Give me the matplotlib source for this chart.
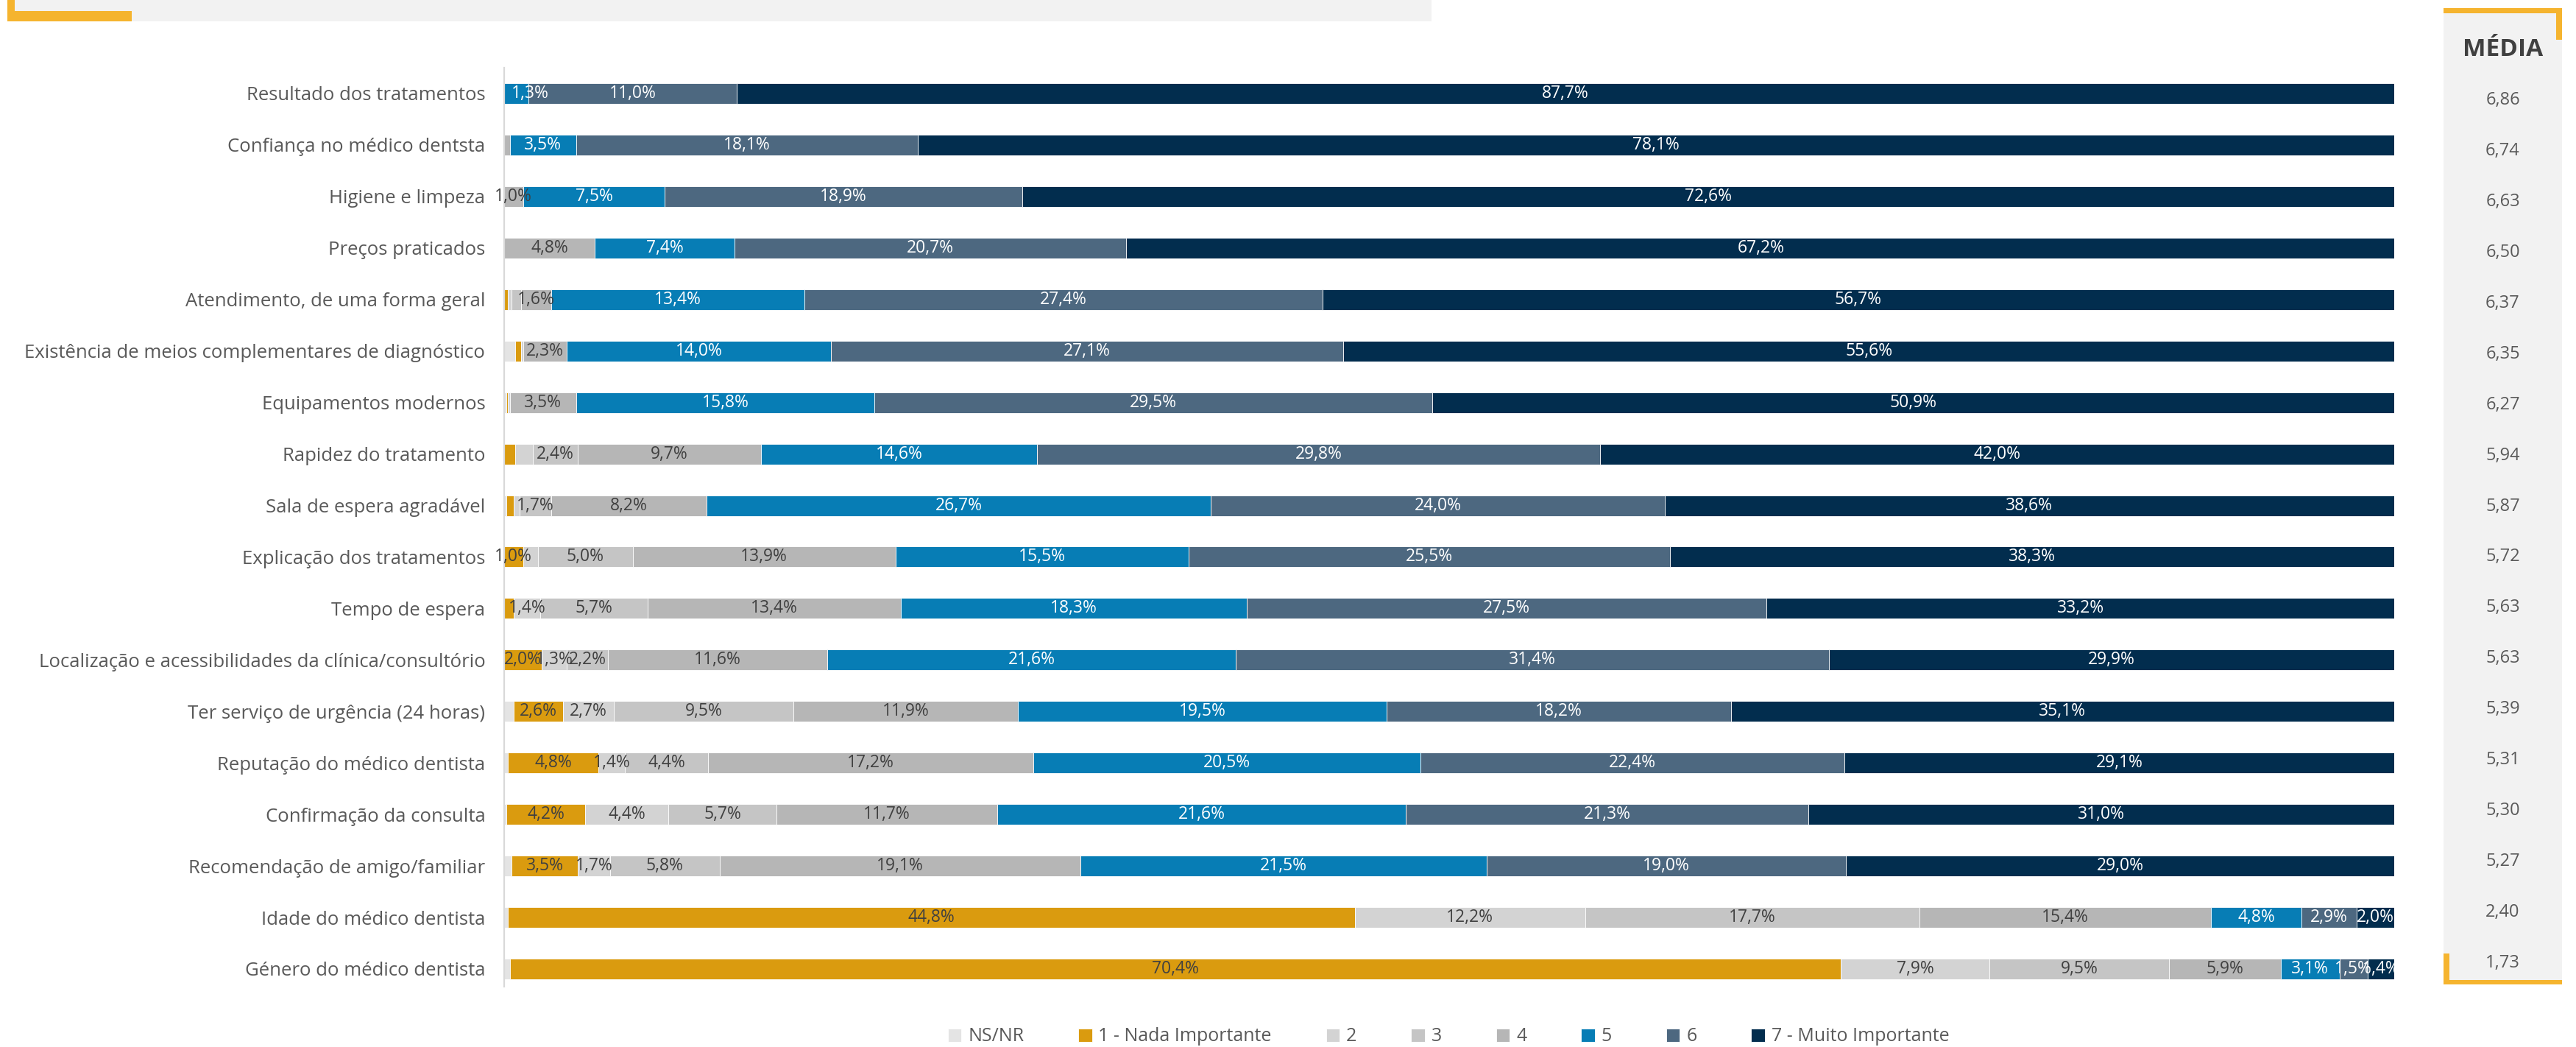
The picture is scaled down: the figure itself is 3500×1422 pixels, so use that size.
import matplotlib
matplotlib.use("Agg")
import matplotlib.pyplot as plt
from matplotlib.patches import Rectangle
import numpy as np

plt.rcParams["font.family"] = ["Open Sans", "DejaVu Sans"]

# ---------------------------------------------------------------- data
categories = [
    "Resultado dos tratamentos",
    "Confiança no médico dentsta",
    "Higiene e limpeza",
    "Preços praticados",
    "Atendimento, de uma forma geral",
    "Existência de meios complementares de diagnóstico",
    "Equipamentos modernos",
    "Rapidez do tratamento",
    "Sala de espera agradável",
    "Explicação dos tratamentos",
    "Tempo de espera",
    "Localização e acessibilidades da clínica/consultório",
    "Ter serviço de urgência (24 horas)",
    "Reputação do médico dentista",
    "Confirmação da consulta",
    "Recomendação de amigo/familiar",
    "Idade do médico dentista",
    "Género do médico dentista",
]

series_names = ["NS/NR", "1 - Nada Importante", "2", "3", "4", "5", "6",
                "7 - Muito Importante"]

ns_nr = [0, 0, 0, 0, 0, 0.6, 0.1, 0, 0.1, 0, 0, 0, 0.5, 0.2, 0.1, 0.4, 0.2, 0.3]
s1 = [0, 0, 0, 0, 0.2, 0.3, 0.1, 0.6, 0.4, 1.0, 0.5, 2.0, 2.6, 4.8, 4.2, 3.5, 44.8, 70.4]
s2 = [0, 0, 0, 0, 0.2, 0.1, 0.1, 0.9, 0.3, 0.8, 1.4, 1.3, 2.7, 1.4, 4.4, 1.7, 12.2, 7.9]
s3 = [0, 0, 0, 0, 0.5, 0, 0, 2.4, 1.7, 5.0, 5.7, 2.2, 9.5, 4.4, 5.7, 5.8, 17.7, 9.5]
s4 = [0, 0.3, 1.0, 4.8, 1.6, 2.3, 3.5, 9.7, 8.2, 13.9, 13.4, 11.6, 11.9, 17.2, 11.7, 19.1, 15.4, 5.9]
s5 = [1.3, 3.5, 7.5, 7.4, 13.4, 14.0, 15.8, 14.6, 26.7, 15.5, 18.3, 21.6, 19.5, 20.5, 21.6, 21.5, 4.8, 3.1]
s6 = [11.0, 18.1, 18.9, 20.7, 27.4, 27.1, 29.5, 29.8, 24.0, 25.5, 27.5, 31.4, 18.2, 22.4, 21.3, 19.0, 2.9, 1.5]
s7 = [87.7, 78.1, 72.6, 67.2, 56.7, 55.6, 50.9, 42.0, 38.6, 38.3, 33.2, 29.9, 35.1, 29.1, 31.0, 29.0, 2.0, 1.4]

means = ["6,86", "6,74", "6,63", "6,50", "6,37", "6,35", "6,27", "5,94", "5,87",
         "5,72", "5,63", "5,63", "5,39", "5,31", "5,30", "5,27", "2,40", "1,73"]

series = [ns_nr, s1, s2, s3, s4, s5, s6, s7]
colors = ["#e4e4e4", "#da9b0f", "#d3d3d3", "#c5c5c5", "#b6b6b6",
          "#077db5", "#4d6880", "#022d4e"]
label_colors = ["#404040"] * 5 + ["white"] * 3

# ---------------------------------------------------------------- figure
W, H = 3500, 1422
fig = plt.figure(figsize=(W / 100, H / 100), dpi=100)
fig.patch.set_facecolor("white")


def fx(px):
    return px / W


def fy(py):
    return 1 - py / H


def fig_rect(x0, y0, x1, y1, color, z=0):
    fig.add_artist(Rectangle((fx(x0), fy(y1)), fx(x1) - fx(x0), fy(y0) - fy(y1),
                             transform=fig.transFigure, facecolor=color,
                             edgecolor="none", zorder=z))


orange = "#f5b42f"
panel_grey = "#f2f2f2"

# header band with orange corner
fig_rect(10, 0, 1945, 29, panel_grey)
fig_rect(10, 0, 20, 29, orange, 1)
fig_rect(10, 15, 179, 29, orange, 1)

# ---------------------------------------------------------------- bars
n = len(categories)
y = np.arange(n)
ax_left, ax_right, ax_top, ax_bottom = 685, 3253, 92, 1340
ax = fig.add_axes([fx(ax_left), fy(ax_bottom), fx(ax_right) - fx(ax_left),
                   fy(ax_top) - fy(ax_bottom)])

row_first, row_last = 127, 1316
unit = (row_last - row_first) / (n - 1)
ax.set_ylim(n - 1 + (ax_bottom - row_last) / unit, -(row_first - ax_top) / unit)
ax.set_xlim(0, 100)

left = np.zeros(n)
for name, vals, col, tcol in zip(series_names, series, colors, label_colors):
    vals = np.array(vals, dtype=float)
    ax.barh(y, vals, left=left, height=0.40, color=col, edgecolor="white",
            linewidth=0.6, label=name)
    for yi, (l0, v) in enumerate(zip(left, vals)):
        if v >= 1.0:
            txt = f"{v:.1f}%".replace(".", ",")
            if tcol == "white" and l0 == 0 and v < 2.5:
                # keep a light label inside the bar when the first segment is thin
                ax.text(l0 + 0.4, yi, txt, ha="left", va="center",
                        fontsize=16.5, color=tcol)
            else:
                ax.text(l0 + v / 2, yi, txt, ha="center", va="center",
                        fontsize=16.5, color=tcol)
    left += vals

ax.set_yticks(y)
ax.set_yticklabels(categories, fontsize=18.5, color="#595959")
ax.tick_params(axis="y", length=0, pad=18.5)
ax.set_xticks([])
for side in ["top", "right", "bottom"]:
    ax.spines[side].set_visible(False)
ax.spines["left"].set_color("#d9d9d9")
ax.spines["left"].set_linewidth(1.6)
ax.set_facecolor("none")

# ---------------------------------------------------------------- mean panel
p_left, p_right, p_top, p_bottom = 3320, 3481, 11, 1337
axm = fig.add_axes([fx(p_left), fy(p_bottom), fx(p_right) - fx(p_left),
                    fy(p_top) - fy(p_bottom)])
axm.set_facecolor(panel_grey)
m_first, m_last = 136, 1308
m_unit = (m_last - m_first) / (n - 1)
axm.set_ylim(n - 1 + (p_bottom - m_last) / m_unit, -(m_first - p_top) / m_unit)
axm.set_xlim(0, 1)
axm.set_xticks([])
axm.set_yticks([])
for s in axm.spines.values():
    s.set_visible(False)
for i, m in enumerate(means):
    axm.text(0.5, i, m, ha="center", va="center", fontsize=17, color="#595959")
axm.text(0.5, (68 - m_first) / m_unit, "MÉDIA", ha="center", va="center",
         fontsize=24, fontweight="bold", color="#404040")

# orange corners of the mean panel
fig_rect(p_left, p_top, p_right, p_top + 7, orange, 3)
fig_rect(p_right - 8, p_top, p_right, p_top + 43, orange, 3)
fig_rect(p_left, p_bottom - 6, p_right, p_bottom, orange, 3)
fig_rect(p_left, p_bottom - 42, p_left + 8, p_bottom, orange, 3)

# ---------------------------------------------------------------- legend
handles, labels = ax.get_legend_handles_labels()
fig.legend(handles, labels, loc="center", bbox_to_anchor=(fx(1968), fy(1408)),
           ncol=8, frameon=False, fontsize=18, labelcolor="#595959",
           handlelength=0.75, handleheight=0.75, handletextpad=0.35,
           columnspacing=2.95, borderaxespad=0, borderpad=0)

fig.savefig("out.png", dpi=100, facecolor="white")
